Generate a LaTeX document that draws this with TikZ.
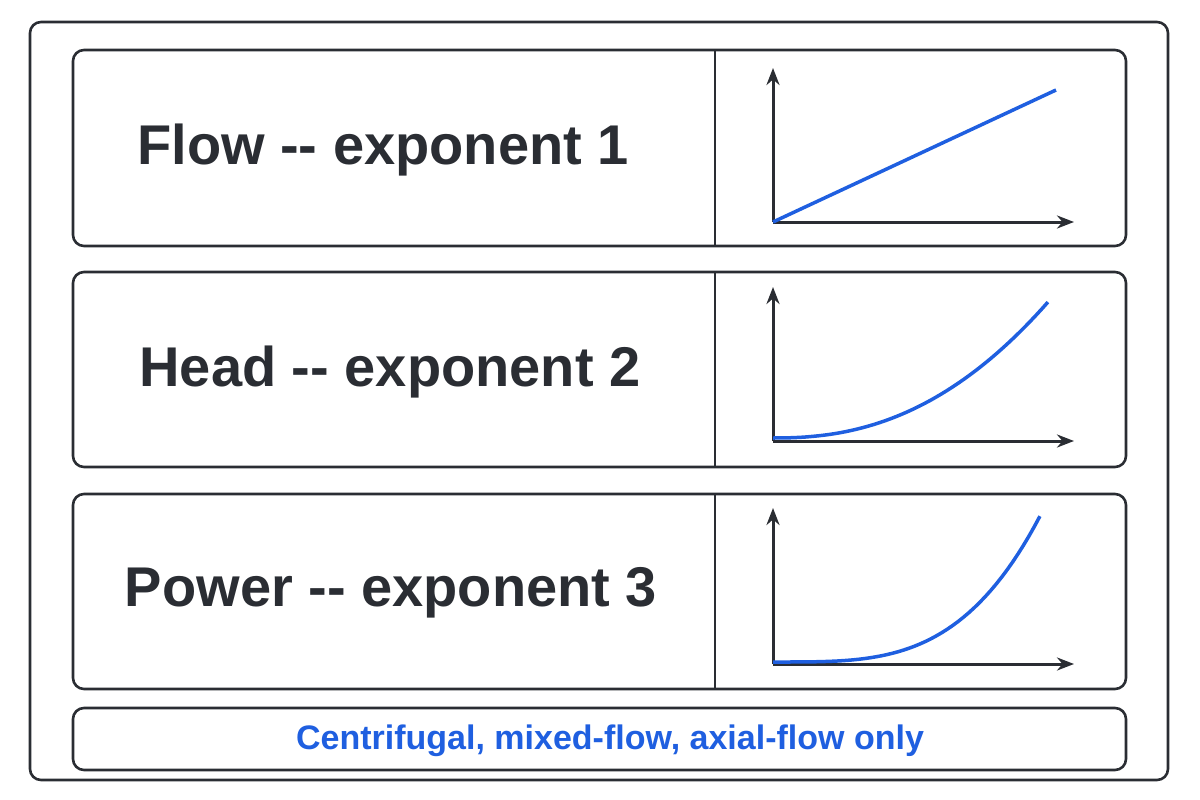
\documentclass[tikz,border=0pt]{standalone}
\usepackage{fontspec}
\setmainfont{Liberation Sans}
\usetikzlibrary{arrows.meta}
\definecolor{ink}{HTML}{2A2D33}
\definecolor{blu}{HTML}{1F5FE0}
\begin{document}
\begin{tikzpicture}[x=1pt,y=-1pt,
  box/.style={draw=ink,line width=2.6pt,rounded corners=11pt},
  ax/.style={draw=ink,line width=3pt,-{Stealth[length=17pt,width=13pt]}},
  crv/.style={draw=blu,line width=3.5pt},
  lbl/.style={font=\bfseries\fontsize{56}{60}\selectfont,text=ink}]
\useasboundingbox (0,0) rectangle (1200,800);
\draw[box] (30,22) rectangle (1168,780);
\foreach \t/\b/\n in {50/246/a,272/467/b,494/689/c}{
  \draw[box] (73,\t) rectangle (1126,\b);
  \draw[ink,line width=1.6pt] (715,\t) -- (715,\b);
}
\node[lbl] (t1) at (383,150) {Flow -{}- exponent 1};
\node[lbl] (t2) at (390,372) {Head -{}- exponent 2};
\node[lbl] (t3) at (391,593) {Power -{}- exponent 3};
% graph 1
\coordinate (o1) at (773,222);
\draw[ax] (o1) -- (773,68);
\draw[ax] (o1) -- (1074,222);
\draw[crv] (o1) -- (1056,90);
% graph 2
\coordinate (o2) at (773,441);
\draw[ax] (o2) -- (773,287);
\draw[ax] (o2) -- (1074,441);
\draw[crv] plot[domain=0:1,samples=50] ({773+275*\x},{441-3-136*(\x)^2.3});
% graph 3
\coordinate (o3) at (773,664);
\draw[ax] (o3) -- (773,508);
\draw[ax] (o3) -- (1074,664);
\draw[crv] plot[domain=0:1,samples=50] ({773+267*\x},{664-2-146*(\x)^3.5});
\draw[box] (73,708) rectangle (1126,770);
\node[font=\bfseries\fontsize{34}{38}\selectfont,text=blu] (bt) at (610,741) {Centrifugal, mixed-flow, axial-flow only};
\end{tikzpicture}
\end{document}
